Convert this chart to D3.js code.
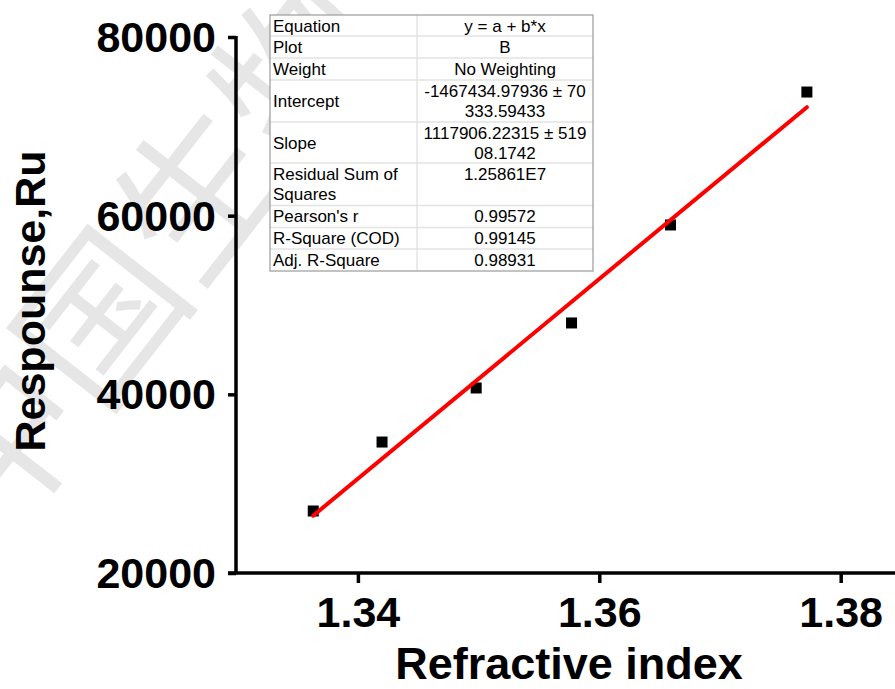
<!DOCTYPE html>
<html><head><meta charset="utf-8">
<script src="https://cdn.jsdelivr.net/npm/d3@7"></script>
<style>body{margin:0;background:#fff;}svg{display:block;font-family:Arial,"Liberation Sans",sans-serif;}</style>
</head><body>
<svg id="c" width="895" height="689"></svg>
<script>
const xValues = [1.3363, 1.3420, 1.3498, 1.3577, 1.3659, 1.3772];
const yValues = [26940, 34660, 40710, 47990, 58960, 73840];
const fitIntercept = -1467434.97936;
const fitSlope = 1117906.22315;
const xTicks = [1.34, 1.36, 1.38];
const yTicks = [20000, 40000, 60000, 80000];
const tableLabels = [["Equation"],["Plot"],["Weight"],["Intercept"],["Slope"],["Residual Sum of","Squares"],["Pearson's r"],["R-Square (COD)"],["Adj. R-Square"]];
const tableValues = [["y = a + b*x"],["B"],["No Weighting"],["-1467434.97936 ± 70","333.59433"],["1117906.22315 ± 519","08.1742"],["1.25861E7"],["0.99572"],["0.99145"],["0.98931"]];

const svg = d3.select("#c");
// watermark
svg.append("text").attr("transform","translate(141,248) rotate(-52)")
  .attr("font-family","'Noto Sans CJK SC'").attr("font-size",160).attr("fill","#e6e6e6")
  .attr("text-anchor","middle").attr("dominant-baseline","central").text("中国生物");

const x = d3.scaleLinear().domain([1.3299, 1.3845]).range([236, 895]);
const y = d3.scaleLinear().domain([20000, 80000]).range([573, 37]);

const xAxis = svg.append("g").attr("transform","translate(0,573)")
  .call(d3.axisBottom(x).tickValues(xTicks).tickFormat(d3.format(".2f")).tickSize(10).tickSizeOuter(0));
xAxis.select(".domain").attr("stroke","#000").attr("stroke-width",3.5).attr("d","M228,0H895");
xAxis.selectAll(".tick line").attr("stroke-width",3.5);
xAxis.selectAll(".tick text").attr("font-size",43).attr("font-weight","bold").attr("fill","#000")
  .attr("font-family","Arial,'Liberation Sans'").attr("y",54).attr("dy",0);

const yAxis = svg.append("g").attr("transform","translate(236,0)")
  .call(d3.axisLeft(y).tickValues(yTicks).tickFormat(d3.format("d")).tickSize(8).tickSizeOuter(0));
yAxis.select(".domain").attr("stroke","#000").attr("stroke-width",3.5).attr("d","M0,36V573");
yAxis.selectAll(".tick line").attr("stroke-width",3.5);
yAxis.selectAll(".tick text").attr("font-size",43).attr("font-weight","bold").attr("fill","#000")
  .attr("font-family","Arial,'Liberation Sans'").attr("x",-20).attr("dy","0.34em");

svg.append("text").attr("x",569).attr("y",679).attr("text-anchor","middle")
  .attr("font-size",45).attr("font-weight","bold").text("Refractive index");
svg.append("text").attr("transform","translate(45,301) rotate(-90)").attr("text-anchor","middle")
  .attr("font-size",43).attr("font-weight","bold").text("Respounse,Ru");

// points
svg.append("g").selectAll("rect").data(xValues.map((v,i)=>[v,yValues[i]])).join("rect")
  .attr("x",d=>x(d[0])-5.5).attr("y",d=>y(d[1])-5.5).attr("width",11).attr("height",11).attr("fill","#000");

// fit line
const xr = d3.extent(xValues);
svg.append("line").attr("x1",x(xr[0])).attr("y1",y(fitIntercept+fitSlope*xr[0]))
  .attr("x2",x(xr[1])).attr("y2",y(fitIntercept+fitSlope*xr[1]))
  .attr("stroke","#f00").attr("stroke-width",4).attr("stroke-linecap","round");

// table
const rowBounds = [15,36,58,80,122,163,205.5,227.5,249,271];
const tL = 270, tM = 417, tR = 593;
const tg = svg.append("g").attr("font-size",17).attr("fill","#000");
tg.append("rect").attr("x",tL).attr("y",15).attr("width",tR-tL).attr("height",271-15).attr("fill","#fff");
for (let i=1;i<rowBounds.length-1;i++){
  tg.append("line").attr("x1",tL).attr("x2",tR).attr("y1",rowBounds[i]).attr("y2",rowBounds[i]).attr("stroke","#e3e3e3").attr("stroke-width",1.5);
}
tg.append("line").attr("x1",tM).attr("x2",tM).attr("y1",15).attr("y2",271).attr("stroke","#e3e3e3").attr("stroke-width",1.5);
tg.append("rect").attr("x",tL).attr("y",15).attr("width",tR-tL).attr("height",271-15).attr("fill","none").attr("stroke","#9a9a9a").attr("stroke-width",1.2);
tableLabels.forEach((lab,i)=>{
  const top = rowBounds[i], bot = rowBounds[i+1];
  if (lab.length===1 && tableValues[i].length===2){
    tg.append("text").attr("x",tL+3).attr("y",(top+bot)/2+6).text(lab[0]);
  } else {
    lab.forEach((t,j)=>tg.append("text").attr("x",tL+3).attr("y",top+16.5+j*20.5).text(t));
  }
  tableValues[i].forEach((t,j)=>tg.append("text").attr("x",(tM+tR)/2).attr("y",top+16.5+j*20.5).attr("text-anchor","middle").text(t));
});
</script>
</body></html>
